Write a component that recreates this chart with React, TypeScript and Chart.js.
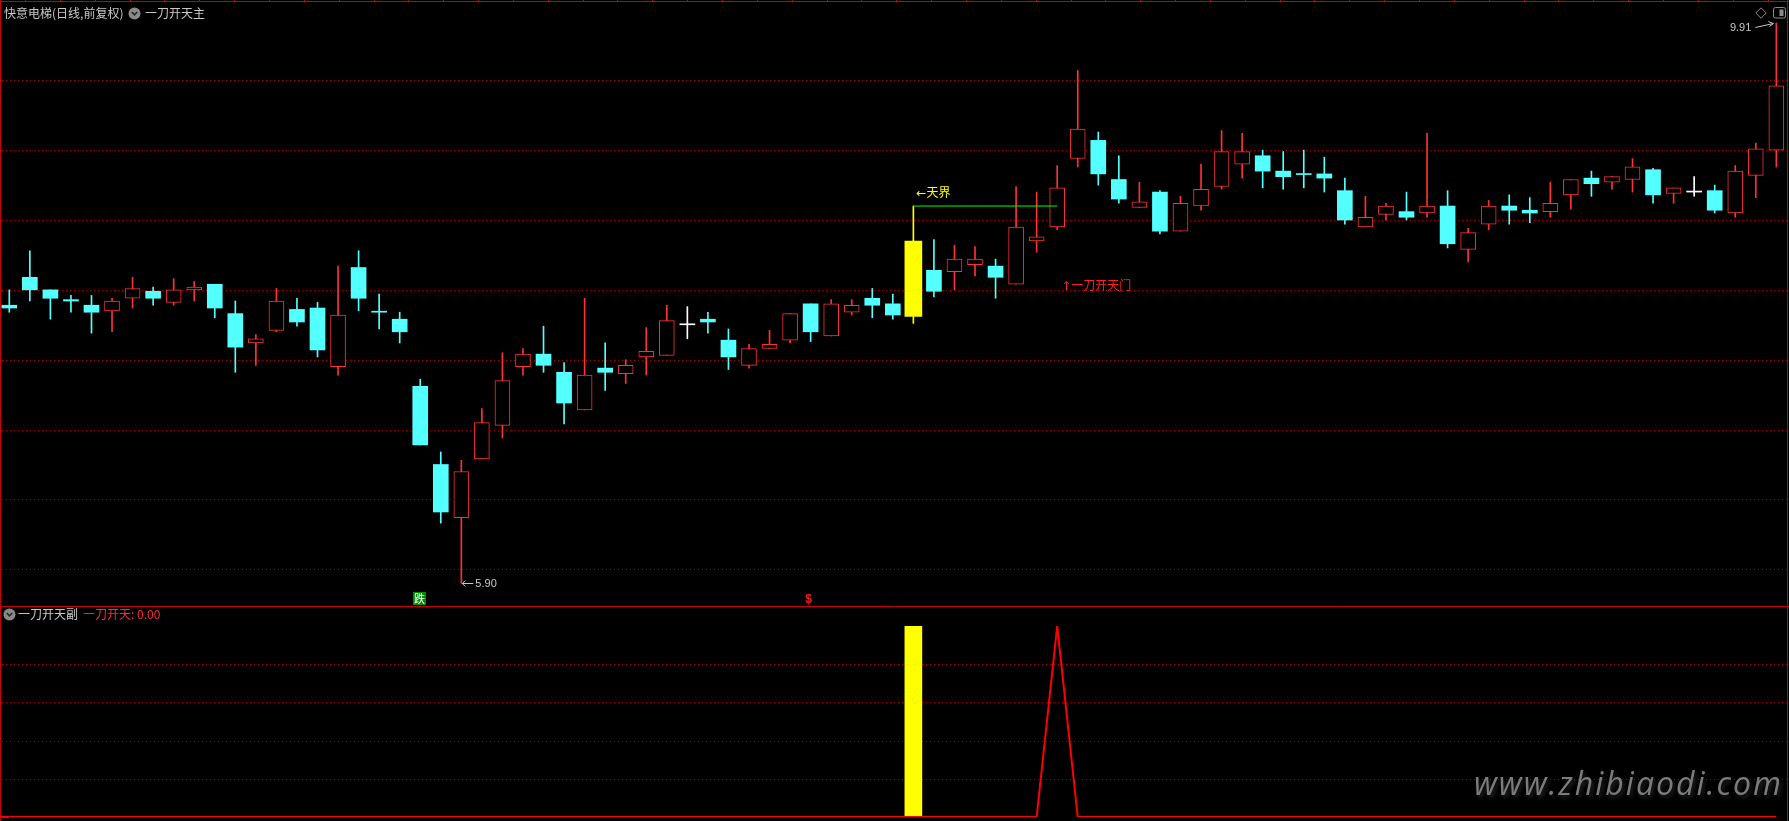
import React, { useEffect, useRef } from 'react';
import { Chart, registerables } from 'chart.js';

Chart.register(...registerables);

// ---- data ----
const candleIndex = Array.from({ length: 87 }, (_, i) => i); // trading-day slots

const openPrices = [
  7.89, 8.09, 8.00, 7.93, 7.89, 7.85, 7.94, 7.99, 7.91, 8.00,
  8.04, 7.83, 7.62, 7.71, 7.86, 7.87, 7.45, 8.16, 7.845, 7.79,
  7.31, 6.75, 6.37, 6.79, 7.03, 7.45, 7.54, 7.41, 7.14, 7.44,
  7.40, 7.52, 7.53, 7.75, 7.79, 7.64, 7.46, 7.58, 7.64, 7.90,
  7.67, 7.84, 7.94, 7.90, 7.81, 8.14, 8.13, 8.18, 8.17, 8.04,
  8.35, 8.45, 8.94, 9.07, 8.79, 8.59, 8.70, 8.42, 8.60, 8.74,
  8.90, 8.96, 8.85, 8.83, 8.83, 8.71, 8.45, 8.54, 8.56, 8.55,
  8.60, 8.29, 8.47, 8.60, 8.57, 8.56, 8.68, 8.80, 8.77, 8.79,
  8.86, 8.69, 8.70, 8.71, 8.55, 8.82, 9.00,
];
const highPrices = [
  8.00, 8.28, 8.00, 7.96, 7.96, 7.94, 8.09, 8.02, 8.08, 8.06,
  8.04, 7.92, 7.68, 8.01, 7.94, 7.91, 8.17, 8.28, 7.97, 7.84,
  7.36, 6.84, 6.78, 7.15, 7.55, 7.58, 7.74, 7.48, 7.94, 7.62,
  7.50, 7.73, 7.89, 7.88, 7.84, 7.72, 7.61, 7.71, 7.83, 7.90,
  7.93, 7.93, 8.01, 7.97, 8.35, 8.36, 8.32, 8.31, 8.22, 8.74,
  8.70, 8.89, 9.57, 9.13, 8.96, 8.77, 8.71, 8.67, 8.90, 9.14,
  9.12, 9.00, 8.99, 9.00, 8.95, 8.80, 8.67, 8.62, 8.70, 9.12,
  8.71, 8.44, 8.64, 8.68, 8.66, 8.77, 8.79, 8.85, 8.81, 8.94,
  8.87, 8.73, 8.81, 8.75, 8.89, 9.05, 9.91,
];
const lowPrices = [
  7.84, 7.92, 7.79, 7.84, 7.69, 7.70, 7.87, 7.89, 7.89, 7.92,
  7.80, 7.41, 7.46, 7.70, 7.74, 7.52, 7.39, 7.85, 7.72, 7.62,
  6.89, 6.33, 5.90, 6.79, 6.94, 7.39, 7.41, 7.04, 7.14, 7.28,
  7.33, 7.39, 7.53, 7.65, 7.69, 7.43, 7.44, 7.58, 7.62, 7.63,
  7.67, 7.82, 7.80, 7.79, 7.76, 7.95, 8.00, 8.10, 7.94, 8.04,
  8.27, 8.43, 8.88, 8.75, 8.62, 8.59, 8.40, 8.42, 8.57, 8.72,
  8.80, 8.73, 8.72, 8.73, 8.70, 8.47, 8.45, 8.50, 8.50, 8.52,
  8.30, 8.20, 8.43, 8.47, 8.48, 8.52, 8.58, 8.67, 8.72, 8.70,
  8.62, 8.62, 8.67, 8.55, 8.52, 8.66, 8.88,
];
const closePrices = [
  7.87, 8.00, 7.94, 7.92, 7.84, 7.92, 8.01, 7.94, 8.00, 8.02,
  7.87, 7.59, 7.65, 7.92, 7.77, 7.57, 7.82, 7.94, 7.84, 7.70,
  6.89, 6.41, 6.70, 7.05, 7.35, 7.54, 7.46, 7.19, 7.39, 7.41,
  7.46, 7.56, 7.78, 7.75, 7.77, 7.52, 7.58, 7.61, 7.83, 7.70,
  7.90, 7.89, 7.89, 7.82, 8.35, 7.99, 8.22, 8.22, 8.09, 8.45,
  8.38, 8.73, 9.15, 8.83, 8.65, 8.63, 8.42, 8.62, 8.72, 8.99,
  8.99, 8.85, 8.81, 8.825, 8.80, 8.50, 8.52, 8.60, 8.52, 8.60,
  8.33, 8.41, 8.60, 8.57, 8.55, 8.62, 8.79, 8.76, 8.81, 8.88,
  8.68, 8.73, 8.70, 8.57, 8.85, 9.01, 9.46,
];

// 一刀开天 indicator line (sub panel)
const signalValues = [
  0, 0, 0, 0, 0, 0, 0, 0, 0, 0,
  0, 0, 0, 0, 0, 0, 0, 0, 0, 0,
  0, 0, 0, 0, 0, 0, 0, 0, 0, 0,
  0, 0, 0, 0, 0, 0, 0, 0, 0, 0,
  0, 0, 0, 0, 0, 0, 0, 0, 0, 0,
  0, 1, 0, 0, 0, 0, 0, 0, 0, 0,
  0, 0, 0, 0, 0, 0, 0, 0, 0, 0,
  0, 0, 0, 0, 0, 0, 0, 0, 0, 0,
  0, 0, 0, 0, 0, 0, 0,
];

const signalBarIndex = 44; // yellow 一刀开天 candle
const signalBarValue = 1;
const gateIndex = 51; // 一刀开天门
const skyLevel = 8.6; // 天界
const gateLabelLevel = 8.02;
const lowIndex = 22;
const lowValue = 5.9;
const highIndex = 86;
const highValue = 9.91;
const fallIndex = 20; // 跌
const dollarIndex = 39; // $

const mainGridLevels = [6.0, 6.5, 7.0, 7.5, 8.0, 8.5, 9.0, 9.5];
const subGridLevels = [0.2, 0.4, 0.6, 0.8];

// ---- styles ----
const W = 1789;
const MAIN_H = 607;
const SUB_H = 214;
const UP = '#ff3232';
const DOWN = '#54ffff';
const FLAT = '#ffffff';
const SIGNAL = '#ffff00';
const GRID = '#a80000';
const BORDER = '#c80000';
const X_MIN = -0.4526;
const X_MAX = 86.616;

const candleColor = (i: number) => {
  if (i === signalBarIndex) return SIGNAL;
  if (closePrices[i] > openPrices[i]) return UP;
  if (closePrices[i] < openPrices[i]) return DOWN;
  return FLAT;
};

function drawGrid(chart: any, levels: number[]) {
  const { ctx, scales } = chart;
  ctx.save();
  ctx.strokeStyle = GRID;
  ctx.lineWidth = 1;
  ctx.setLineDash([1, 3]);
  levels.forEach((v) => {
    const y = Math.round(scales.y.getPixelForValue(v)) + 0.5;
    ctx.beginPath();
    ctx.moveTo(2, y);
    ctx.lineTo(chart.width - 2, y);
    ctx.stroke();
  });
  ctx.restore();
}

function line(ctx: any, x1: number, y1: number, x2: number, y2: number) {
  ctx.beginPath();
  ctx.moveTo(x1, y1);
  ctx.lineTo(x2, y2);
  ctx.stroke();
}

const mainDecor = {
  id: 'mainDecor',
  beforeDatasetsDraw(chart: any) {
    drawGrid(chart, mainGridLevels);
  },
  afterDatasetsDraw(chart: any) {
    const { ctx, scales } = chart;
    const xs = scales.x;
    const ys = scales.y;
    ctx.save();
    ctx.textBaseline = 'middle';
    ctx.textAlign = 'left';

    // 天界 label
    ctx.fillStyle = '#ffff00';
    ctx.font = "12px 'DejaVu Sans', 'Noto Sans CJK SC'";
    ctx.fillText('←天界', xs.getPixelForValue(signalBarIndex) + 3, ys.getPixelForValue(skyLevel) - 12);

    // 一刀开天门 label
    ctx.fillStyle = '#ff2020';
    ctx.fillText('↑一刀开天门', xs.getPixelForValue(gateIndex) + 4, ys.getPixelForValue(gateLabelLevel));

    // low label
    const lx = xs.getPixelForValue(lowIndex);
    const ly = Math.round(ys.getPixelForValue(lowValue)) + 0.5;
    ctx.strokeStyle = '#c8c8c8';
    ctx.fillStyle = '#c8c8c8';
    ctx.lineWidth = 1;
    line(ctx, lx + 1, ly, lx + 12, ly);
    line(ctx, lx + 1, ly, lx + 4, ly - 3);
    line(ctx, lx + 1, ly, lx + 4, ly + 3);
    ctx.font = "11px 'Liberation Sans', Arial";
    ctx.fillText(lowValue.toFixed(2), lx + 14, ly + 0.5);

    // high label
    const hx = xs.getPixelForValue(highIndex);
    const hy = ys.getPixelForValue(highValue);
    ctx.textAlign = 'right';
    ctx.fillText(highValue.toFixed(2), hx - 25, hy + 5);
    line(ctx, hx - 21, hy + 4.5, hx - 3, hy + 0.5);
    line(ctx, hx - 3, hy + 0.5, hx - 8, hy - 1.5);
    line(ctx, hx - 3, hy + 0.5, hx - 7, hy + 3.5);

    // 跌 box
    const fx = xs.getPixelForValue(fallIndex);
    ctx.fillStyle = '#008c00';
    ctx.fillRect(Math.round(fx) - 7, 592, 13, 13);
    ctx.fillStyle = '#ffffff';
    ctx.textAlign = 'center';
    ctx.font = "11px 'Noto Sans CJK SC'";
    ctx.fillText('跌', Math.round(fx) - 0.5, 598.5);

    // $ mark
    ctx.fillStyle = '#ff1a1a';
    ctx.font = "bold 12px 'Liberation Sans', Arial";
    ctx.fillText('$', xs.getPixelForValue(dollarIndex) - 2, 600);

    // borders
    ctx.strokeStyle = BORDER;
    ctx.lineWidth = 1;
    line(ctx, 0.5, 0, 0.5, MAIN_H);
    line(ctx, W - 1.5, 0, W - 1.5, MAIN_H);
    line(ctx, 0, 1.5, W, 1.5);
    line(ctx, 0, MAIN_H - 0.5, W, MAIN_H - 0.5);
    for (let k = 0; k <= 50; k++) {
      const tx = Math.round(25 + 34.85 * k) + 0.5;
      line(ctx, tx, 0, tx, 1.5);
    }
    ctx.restore();
  },
};

const subDecor = {
  id: 'subDecor',
  beforeDatasetsDraw(chart: any) {
    drawGrid(chart, subGridLevels);
  },
  afterDatasetsDraw(chart: any) {
    const { ctx, scales } = chart;
    ctx.save();
    ctx.strokeStyle = '#ff0000';
    ctx.lineWidth = 2;
    const y0 = scales.y.getPixelForValue(0);
    line(ctx, 0, y0, scales.x.getPixelForValue(0), y0);
    ctx.strokeStyle = BORDER;
    ctx.lineWidth = 1;
    line(ctx, 0.5, 0, 0.5, SUB_H);
    line(ctx, W - 1.5, 0, W - 1.5, SUB_H);
    ctx.restore();
  },
};

const chevron = (left: number, top: number) => (
  <svg width={13} height={13} style={{ position: 'absolute', left, top }}>
    <circle cx={6.5} cy={6.5} r={6} fill="#8a8a8a" />
    <path d="M3.8 5 L6.5 7.8 L9.2 5" stroke="#262626" strokeWidth={1.6} fill="none" />
  </svg>
);

export default function App() {
  const mainRef = useRef<HTMLCanvasElement>(null);
  const subRef = useRef<HTMLCanvasElement>(null);

  useEffect(() => {
    const bodyIdx = candleIndex.filter((i) => i !== signalBarIndex);
    const main = new Chart(mainRef.current as HTMLCanvasElement, {
      type: 'bar',
      data: {
        datasets: [
          {
            type: 'line',
            data: [
              { x: signalBarIndex, y: skyLevel },
              { x: gateIndex, y: skyLevel },
            ],
            borderColor: '#00ff00',
            borderWidth: 1,
            pointRadius: 0,
            order: 0,
          } as any,
          {
            data: bodyIdx.map((i) => ({ x: i, y: [openPrices[i], closePrices[i]] })),
            barThickness: 15,
            minBarLength: 1,
            grouped: false,
            borderSkipped: false,
            backgroundColor: (c: any) => {
              const i = c.raw.x;
              return closePrices[i] > openPrices[i] ? '#000000' : candleColor(i);
            },
            borderColor: (c: any) => candleColor(c.raw.x),
            borderWidth: (c: any) => (closePrices[c.raw.x] > openPrices[c.raw.x] ? 1 : 0),
            order: 1,
          } as any,
          {
            data: [{ x: signalBarIndex, y: [openPrices[signalBarIndex], closePrices[signalBarIndex]] }],
            barThickness: 17,
            grouped: false,
            backgroundColor: SIGNAL,
            borderWidth: 0,
            order: 2,
          } as any,
          {
            data: candleIndex.map((i) => ({ x: i, y: [lowPrices[i], highPrices[i]] })),
            barThickness: 1,
            grouped: false,
            backgroundColor: (c: any) => candleColor(c.raw.x),
            borderWidth: 0,
            order: 3,
          } as any,
          {
            data: [{ x: signalBarIndex, y: [highPrices[signalBarIndex], skyLevel] }],
            barThickness: 1,
            grouped: false,
            backgroundColor: SIGNAL,
            borderWidth: 0,
            order: 4,
          } as any,
        ],
      },
      options: {
        animation: false,
        responsive: false,
        maintainAspectRatio: false,
        events: [],
        layout: { padding: { top: 2, bottom: 0, left: 0, right: 0 } },
        scales: {
          x: { type: 'linear', min: X_MIN, max: X_MAX, offset: false, display: false },
          y: { type: 'linear', min: 5.73, max: 10.0605, display: false },
        },
        plugins: { legend: { display: false }, tooltip: { enabled: false } },
      } as any,
      plugins: [mainDecor],
    });

    const sub = new Chart(subRef.current as HTMLCanvasElement, {
      type: 'bar',
      data: {
        datasets: [
          {
            type: 'line',
            data: candleIndex.map((i) => ({ x: i, y: signalValues[i] })),
            borderColor: '#ff0000',
            borderWidth: 2,
            pointRadius: 0,
            tension: 0,
            order: 0,
          } as any,
          {
            data: [{ x: signalBarIndex, y: signalBarValue }],
            barThickness: 17,
            grouped: false,
            backgroundColor: SIGNAL,
            borderWidth: 0,
            order: 1,
          } as any,
        ],
      },
      options: {
        animation: false,
        responsive: false,
        maintainAspectRatio: false,
        events: [],
        layout: { padding: { top: 19, bottom: 4, left: 0, right: 0 } },
        scales: {
          x: { type: 'linear', min: X_MIN, max: X_MAX, offset: false, display: false },
          y: { type: 'linear', min: 0, max: 1, display: false },
        },
        plugins: { legend: { display: false }, tooltip: { enabled: false } },
      } as any,
      plugins: [subDecor],
    });

    return () => {
      main.destroy();
      sub.destroy();
    };
  }, []);

  const titleFont = "'Noto Sans CJK SC', sans-serif";
  const txt = (left: number, top: number, color: string, extra: any = {}) => ({
    position: 'absolute' as const,
    left,
    top,
    color,
    fontFamily: titleFont,
    fontSize: 12,
    lineHeight: '14px',
    whiteSpace: 'nowrap' as const,
    ...extra,
  });

  return (
    <div style={{ position: 'fixed', left: 0, top: 0, width: W, height: 821, background: '#000', overflow: 'hidden' }}>
      <canvas ref={mainRef} width={W} height={MAIN_H} style={{ position: 'absolute', left: 0, top: 0 }} />
      <canvas ref={subRef} width={W} height={SUB_H} style={{ position: 'absolute', left: 0, top: MAIN_H }} />

      <span style={txt(4, 6, '#c8c8c8')}>快意电梯(日线,前复权)</span>
      {chevron(128, 7)}
      <span style={txt(145, 6, '#c8c8c8')}>一刀开天主</span>

      {chevron(3, 608)}
      <span style={txt(18, 607, '#c8c8c8')}>一刀开天副</span>
      <span style={txt(83, 607, '#ff2a2a')}>一刀开天: 0.00</span>

      <svg width={12} height={12} style={{ position: 'absolute', left: 1755, top: 7 }}>
        <path d="M6 0.8 L11.2 6 L6 11.2 L0.8 6 Z" stroke="#8a8a8a" strokeWidth={1} fill="none" />
      </svg>
      <svg width={13} height={12} style={{ position: 'absolute', left: 1773, top: 7 }}>
        <rect x={0.5} y={0.5} width={12} height={10.5} rx={2} stroke="#8a8a8a" strokeWidth={1} fill="none" />
        <rect x={6.5} y={2.5} width={4} height={6.5} fill="#8a8a8a" />
      </svg>

      <div
        style={{
          position: 'absolute',
          right: 6,
          top: 767,
          fontFamily: "'Open Sans', sans-serif",
          fontStyle: 'italic',
          fontSize: 32,
          lineHeight: '32px',
          letterSpacing: 2,
          color: '#7c7c7c',
          textShadow: '2px 3px 4px #262626',
          whiteSpace: 'nowrap',
        }}
      >
        www.zhibiaodi.com
      </div>
    </div>
  );
}
